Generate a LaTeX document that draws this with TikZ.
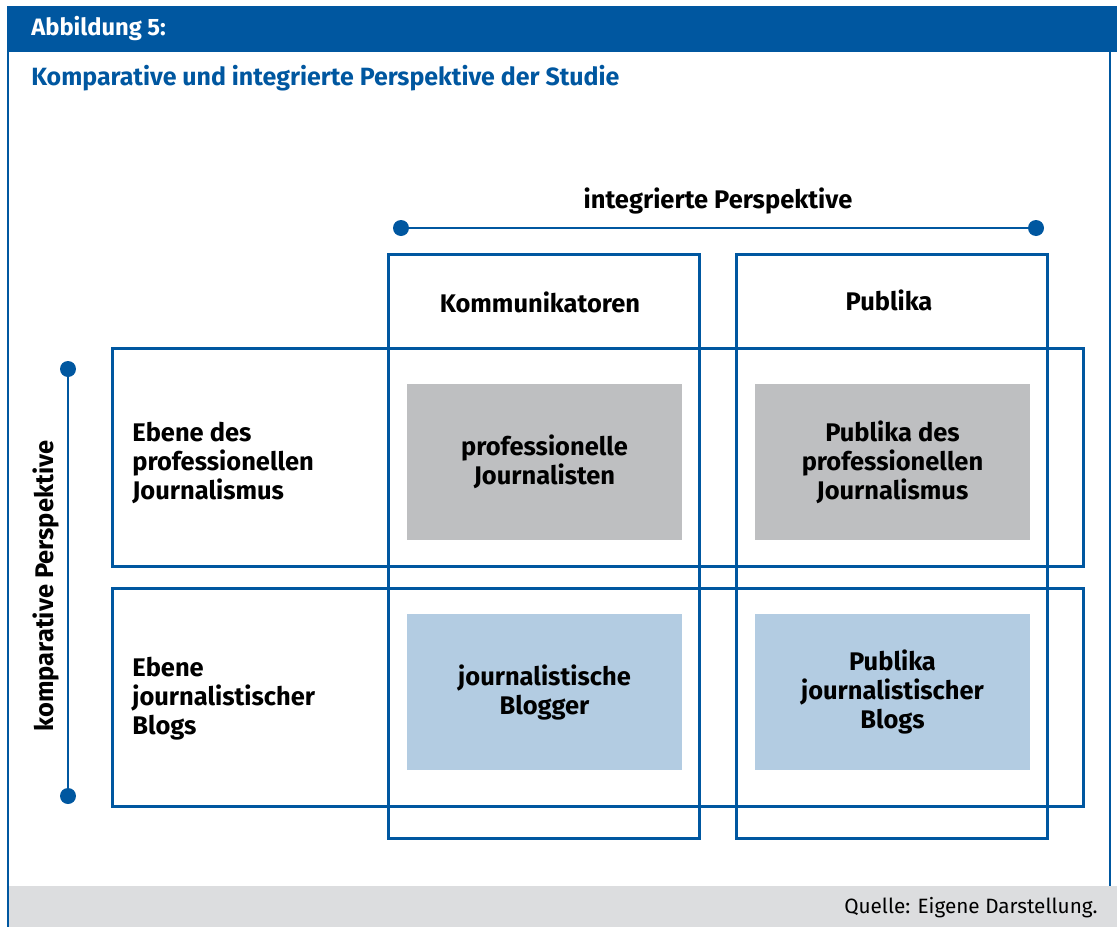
\documentclass[tikz,border=0pt]{standalone}
\usepackage{fontspec}
\setmainfont{Fira Sans}
\usetikzlibrary{positioning}

\definecolor{fbblue}{HTML}{0057A0}
\definecolor{fbgray}{HTML}{BEBFC1}
\definecolor{fblight}{HTML}{B3CCE2}
\definecolor{fbstrip}{HTML}{DCDDDF}

\begin{document}
\begin{tikzpicture}[
  x=0.02cm, y=-0.02cm,
  every node/.style={inner sep=0pt, font=\fontsize{14.5}{16.5}\selectfont\bfseries},
  frame/.style={draw=fbblue, line width=1.7pt},
  cell/.style={minimum width=5.5cm, minimum height=3.14cm, align=center},
  pro/.style={cell, fill=fbgray},
  blog/.style={cell, fill=fblight},
  axis/.style={draw=fbblue, line width=1.5pt},
  dot/.style={circle, fill=fbblue, minimum size=0.32cm}
]
\useasboundingbox (0,0) rectangle (1117,927);

% outer frame
\fill[fbblue] (7,6) rectangle (1117,52);
\fill[fbstrip] (8,886) rectangle (1117,927);
\draw[fbblue, line width=0.9pt] (8,52) -- (8,927);
\draw[fbblue, line width=0.9pt] (1110,52) -- (1110,886);
\node[anchor=west, text=white, font=\fontsize{13.5}{16}\selectfont\bfseries] (abb) at (31,29) {Abbildung 5:};
\node[anchor=west, text=fbblue, font=\fontsize{14.2}{17}\selectfont\bfseries] (titel) at (31,78)
  {Komparative und integrierte Perspektive der Studie};
\node[anchor=east, font=\fontsize{11.8}{14}\selectfont] (quelle) at (1098,908)
  {Quelle: Eigene Darstellung.};

% columns and rows
\node[frame, minimum width=6.24cm, minimum height=11.7cm] (kom) at (544,546.5) {};
\node[frame, minimum width=6.24cm, minimum height=11.7cm] (pub) at (892,546.5) {};
\node[frame, minimum width=19.44cm, minimum height=4.38cm] (prof) at (598,457.5) {};
\node[frame, minimum width=19.44cm, minimum height=4.38cm] (blogs) at (598,697.5) {};

\node (komt) at (540,302) {Kommunikatoren};
\node (pubt) at (889,300) {Publika};
\node[anchor=west, align=left] (proft) at (132,463) {Ebene des\\professionellen\\Journalismus};
\node[anchor=west, align=left] (blogst) at (132,699) {Ebene\\journalistischer\\Blogs};

% cells
\node[pro] (pj) at (544.5,462) {professionelle\\Journalisten};
\node[pro] (ppj) at (892.5,462) {Publika des\\professionellen\\Journalismus};
\node[blog] (jb) at (544.5,692) {journalistische\\Blogger};
\node[blog] (pjb) at (892.5,692) {Publika\\journalistischer\\Blogs};

% perspectives
\node[dot] (i1) at (401,228) {};
\node[dot] (i2) at (1036,228) {};
\draw[axis] (i1) -- (i2);
\node (integ) at (718,201) {integrierte Perspektive};
\node[dot] (k1) at (68,369) {};
\node[dot] (k2) at (68,796) {};
\draw[axis] (k1) -- (k2);
\node[rotate=90] (kompar) at (46,586) {komparative Perspektive};
\end{tikzpicture}
\end{document}
